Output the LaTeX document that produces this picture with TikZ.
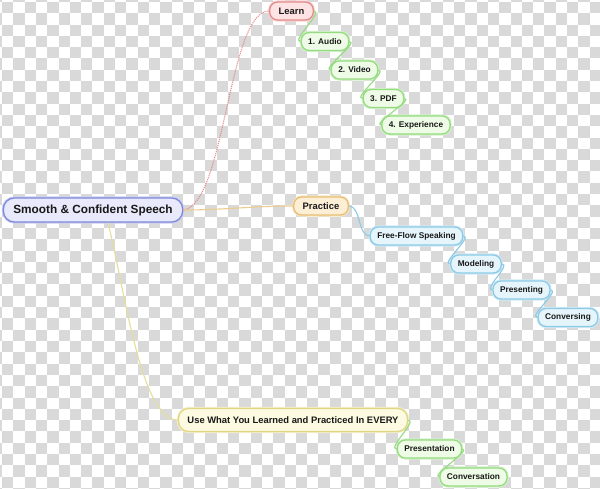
\documentclass[tikz,border=0pt]{standalone}
\usepackage{fontspec}
\setmainfont{Liberation Sans}

\definecolor{checkgray}{HTML}{D9D9D9}
\definecolor{rootfill}{HTML}{E8EAFB}
\definecolor{rootdraw}{HTML}{7F88DA}
\definecolor{learnfill}{HTML}{FDE3E3}
\definecolor{learndraw}{HTML}{E58C8C}
\definecolor{greenfill}{HTML}{EEFBE6}
\definecolor{greendraw}{HTML}{95DB80}
\definecolor{practicefill}{HTML}{FCEFD6}
\definecolor{practicedraw}{HTML}{E8BF74}
\definecolor{bluefill}{HTML}{E6F5FC}
\definecolor{bluedraw}{HTML}{8CCAE5}
\definecolor{usefill}{HTML}{FCFAE0}
\definecolor{usedraw}{HTML}{E0D684}

\begin{document}
\begin{tikzpicture}[x=1pt,y=-1pt,
  topic/.style 2 args={draw=#2, fill=#1, line width=1.3pt, rounded corners=8pt,
    preaction={draw=#2!40, line width=3.2pt}, text=black!90,
    font=\bfseries\fontsize{8.3}{10}\selectfont, inner xsep=7pt, inner ysep=0pt,
    minimum height=18pt},
  maintopic/.style 2 args={topic={#1}{#2}, font=\bfseries\fontsize{9.4}{11}\selectfont,
    inner xsep=9pt},
  link/.style={line width=1.1pt, color=#1}]

  % Fix the size of the picture
  \useasboundingbox (0,0) rectangle (600,489);

  % Draw the checkered background
  \begin{scope}
    \clip (0,0) rectangle (600,489);
    \fill[white] (0,0) rectangle (600,489);
    \foreach \i in {0,...,54}{
      \foreach \j in {0,...,44}{
        \pgfmathparse{int(mod(\i+\j,2))}
        \ifnum\pgfmathresult=0
          \fill[checkgray] ({\i*11.3-9.3},{\j*11.3-9.3}) rectangle ++(11.3,11.3);
        \fi
      }
    }
  \end{scope}

  % Central topic
  \node[topic={rootfill}{rootdraw}, font=\bfseries\fontsize{11.8}{14}\selectfont,
    minimum height=24pt, inner xsep=10pt, rounded corners=11pt] (root) at (93,210)
    {Smooth \& Confident Speech};

  % Main branches
  \node[maintopic={learnfill}{learndraw}] (learn) at (291.5,11) {Learn};
  \node[maintopic={practicefill}{practicedraw}] (practice) at (321,206) {Practice};
  \node[maintopic={usefill}{usedraw}, minimum height=23pt, rounded corners=10pt] (use) at (293,420)
    {Use What You Learned and Practiced In EVERY};

  % Sub topics of Learn
  \node[topic={greenfill}{greendraw}] (audio) at (325,41.5) {1. Audio};
  \node[topic={greenfill}{greendraw}] (video) at (354.5,70) {2. Video};
  \node[topic={greenfill}{greendraw}] (pdf) at (383.5,98.5) {3. PDF};
  \node[topic={greenfill}{greendraw}] (experience) at (416,125) {4. Experience};

  % Sub topics of Practice
  \node[topic={bluefill}{bluedraw}] (freeflow) at (416.5,236) {Free-Flow Speaking};
  \node[topic={bluefill}{bluedraw}] (modeling) at (476,264) {Modeling};
  \node[topic={bluefill}{bluedraw}] (presenting) at (521.5,290) {Presenting};
  \node[topic={bluefill}{bluedraw}] (conversing) at (568,317.5) {Conversing};

  % Sub topics of Use
  \node[topic={greenfill}{greendraw}] (presentation) at (429.5,449) {Presentation};
  \node[topic={greenfill}{greendraw}] (conversation) at (473.5,477) {Conversation};

  % Branches from the central topic
  \coordinate (rootfoot) at ([xshift=15pt]root.south);
  \draw[link=learndraw, densely dotted] (root.east) .. controls +(42,-5) and +(-41,0) .. (learn.west);
  \draw[link=practicedraw!80] (root.east) .. controls +(40,0) and +(-40,0) .. (practice.west);
  \draw[link=usedraw!80] (rootfoot) .. controls +(17,68) and +(-37,0) .. (use.west);

  % Links between the sub topics
  \draw[link=greendraw] (learn.east) .. controls +(10,0) and +(-10,0) .. (audio.west);
  \draw[link=greendraw] (audio.east) .. controls +(10,0) and +(-10,0) .. (video.west);
  \draw[link=greendraw] (video.east) .. controls +(10,0) and +(-10,0) .. (pdf.west);
  \draw[link=greendraw] (pdf.east) .. controls +(10,0) and +(-10,0) .. (experience.west);

  \draw[link=bluedraw] (practice.east) .. controls +(12,0) and +(-12,0) .. (freeflow.west);
  \draw[link=bluedraw] (freeflow.east) .. controls +(10,0) and +(-10,0) .. (modeling.west);
  \draw[link=bluedraw] (modeling.east) .. controls +(10,0) and +(-10,0) .. (presenting.west);
  \draw[link=bluedraw] (presenting.east) .. controls +(10,0) and +(-10,0) .. (conversing.west);

  \draw[link=greendraw] (use.east) .. controls +(10,0) and +(-10,0) .. (presentation.west);
  \draw[link=greendraw] (presentation.east) .. controls +(10,0) and +(-10,0) .. (conversation.west);

\end{tikzpicture}
\end{document}
